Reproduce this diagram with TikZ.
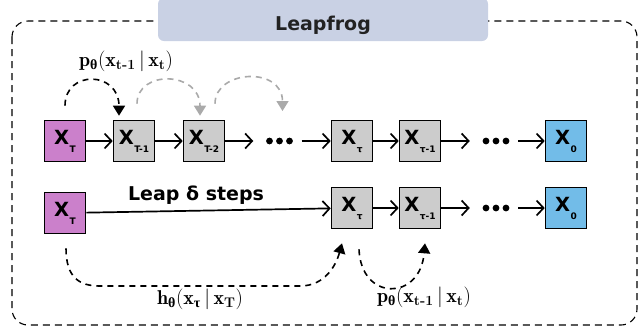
\documentclass[tikz,border=0pt]{standalone}
\usepackage{amsmath}
\usepackage{fontspec}
\newfontfamily\dejab{DejaVu Sans Bold}
\newfontfamily\grk{Liberation Serif Bold}
\usetikzlibrary{arrows.meta}
\definecolor{purp}{HTML}{CB80CB}
\definecolor{grayb}{HTML}{CCCCCC}
\definecolor{blueb}{HTML}{72BCE8}
\definecolor{titlef}{HTML}{C9D1E4}
\definecolor{titlet}{HTML}{222222}
\definecolor{arcgray}{HTML}{AAAAAA}
\newcommand{\xl}[1]{{\fontsize{19.5}{19}\selectfont X}\kern0.5pt\raisebox{-8pt}{\fontsize{9}{9}\selectfont #1}}
\newcommand{\gth}{\text{\grk θ}}
\newcommand{\gta}{\text{\grk τ}}
\newcommand{\bsub}[1]{\text{\bfseries #1}}
\tikzset{
  xbox/.style={draw=black, line width=1.6pt, minimum width=41pt, minimum height=41pt, inner sep=0pt, font=\dejab},
  purpbox/.style={xbox, fill=purp},
  graybox/.style={xbox, fill=grayb},
  bluebox/.style={xbox, fill=blueb},
  flow/.style={-{Straight Barb[length=7pt,width=15pt]}, line width=1.7pt},
  dotsbox/.style={minimum width=48pt, minimum height=10pt, inner sep=0pt},
  arcline/.style={line width=1.6pt, dash pattern=on 6pt off 5pt, -{Triangle[length=10pt,width=12pt]}},
  arcblack/.style={arcline, draw=black},
  arcgrey/.style={arcline, draw=arcgray},
  mathlbl/.style={font=\fontsize{20}{22}\selectfont, inner sep=0pt},
  outerbox/.style={draw=black, line width=1.1pt, dash pattern=on 7pt off 5pt, rounded corners=16pt},
  titlebox/.style={fill=titlef, rounded corners=6pt, minimum width=330pt, minimum height=43pt, text height=21pt, text depth=0pt, inner sep=0pt, font=\dejab\fontsize{19}{19}\selectfont, text=titlet},
  leaptext/.style={font=\dejab\fontsize{19}{19}\selectfont, inner sep=0pt}
}
\begin{document}
\begin{tikzpicture}[x=1pt,y=1pt]
\useasboundingbox (0,0) rectangle (644,-330);
\draw[outerbox] (12,-21) rectangle (637,-325);
\node[titlebox] (title) at (323,-19.5) {Leapfrog};

% top row
\node[purpbox] (a1) at (65,-141) {\xl{T}};
\node[graybox] (a2) at (134,-141) {\xl{T-1}};
\node[graybox] (a3) at (204,-141) {\xl{T-2}};
\node[dotsbox] (ad1) at (277.5,-141) {};
\node[graybox] (a4) at (352,-141) {\xl{τ}};
\node[graybox] (a5) at (420,-141) {\xl{τ-1}};
\node[dotsbox] (ad2) at (494,-141) {};
\node[bluebox] (a6) at (566,-141) {\xl{0}};

\draw[flow] (a1) -- (a2);
\draw[flow] (a2) -- (a3);
\draw[flow] (a3) -- (ad1);
\draw[flow] (ad1) -- (a4);
\draw[flow] (a4) -- (a5);
\draw[flow] (a5) -- (ad2);
\draw[flow] (ad2) -- (a6);
\foreach \dx in {-8,2,12} \fill ([xshift=\dx pt]ad1.center) circle (3.4pt);
\foreach \dx in {-8,2,12} \fill ([xshift=\dx pt]ad2.center) circle (3.4pt);

% top arcs
\draw[arcblack] ([yshift=14pt]a1.north) .. controls +(0,36) and +(0,45) .. ([xshift=-15pt,yshift=4pt]a2.north);
\draw[arcgrey] ([xshift=3pt,yshift=16pt]a2.north) .. controls +(0,34) and +(0,45) .. ([xshift=-4pt,yshift=4pt]a3.north);
\draw[arcgrey] ([xshift=11pt,yshift=16pt]a3.north) .. controls +(0,34) and +(0,45) .. ([xshift=5pt,yshift=30pt]ad1.center);
\node[mathlbl] (ptop) at (126,-61) {$\mathbf{p}_{\gth}(\mathbf{x}_{\bsub{t-1}}\,|\,\mathbf{x}_{\bsub{t}})$};

% bottom row
\node[purpbox] (b1) at (65,-213) {\xl{T}};
\node[graybox] (b4) at (352,-208) {\xl{τ}};
\node[graybox] (b5) at (420,-208) {\xl{τ-1}};
\node[dotsbox] (bd2) at (494,-208) {};
\node[bluebox] (b6) at (566,-208) {\xl{0}};

\draw[flow] (b1) -- (b4);
\draw[flow] (b4) -- (b5);
\draw[flow] (b5) -- (bd2);
\draw[flow] (bd2) -- (b6);
\foreach \dx in {-8,2,12} \fill ([xshift=\dx pt]bd2.center) circle (3.4pt);
\node[leaptext, anchor=base] (leap) at (196,-200) {Leap δ steps};

% bottom arcs
\coordinate (hs) at ([xshift=1pt,yshift=-14pt]b1.south);
\coordinate (he) at ([xshift=-10pt,yshift=-14pt]b4.south);
\draw[arcblack] (hs) .. controls +(0,-30) and +(-20,0) .. (100,-286) -- (300,-286) .. controls +(25,0) and +(-6,-22) .. (he);
\coordinate (ps) at ([xshift=7pt,yshift=-20pt]b4.south);
\coordinate (pe) at ([xshift=5pt,yshift=-14pt]b5.south);
\draw[arcblack] (ps) .. controls +(2,-52) and +(-5,-58) .. (pe);
\node[mathlbl] (hlbl) at (200,-299) {$\mathbf{h}_{\gth}(\mathbf{x}_{\gta}\,|\,\mathbf{x}_{\bsub{T}})$};
\node[mathlbl] (pbot) at (424,-297) {$\mathbf{p}_{\gth}(\mathbf{x}_{\bsub{t-1}}\,|\,\mathbf{x}_{\bsub{t}})$};
\end{tikzpicture}
\end{document}
